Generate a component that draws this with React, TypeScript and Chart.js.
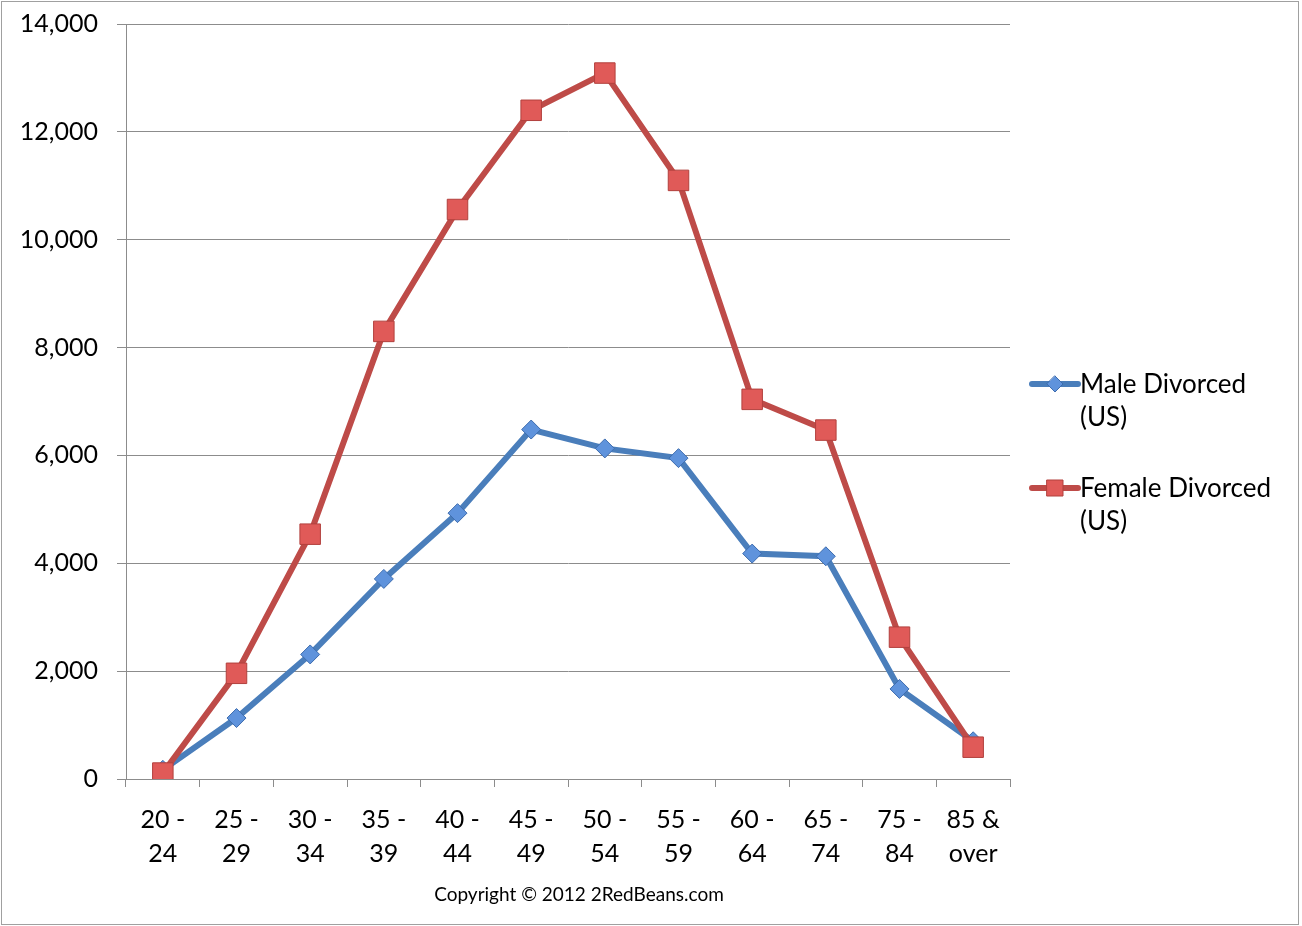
import { useEffect, useRef } from 'react'
import { Chart, registerables } from 'chart.js'
import type { Plugin } from 'chart.js'

Chart.register(...registerables)

const ageGroups: string[][] = [
  ['20 -', '24'],
  ['25 -', '29'],
  ['30 -', '34'],
  ['35 -', '39'],
  ['40 -', '44'],
  ['45 -', '49'],
  ['50 -', '54'],
  ['55 -', '59'],
  ['60 -', '64'],
  ['65 -', '74'],
  ['75 -', '84'],
  ['85 &', 'over'],
]

const maleDivorced = [170, 1130, 2310, 3710, 4930, 6480, 6130, 5950, 4180, 4130, 1670, 700]
const femaleDivorced = [110, 1960, 4540, 8300, 10560, 12400, 13090, 11100, 7040, 6470, 2630, 590]

const yMax = 14000
const yStep = 2000

const legendItems = [
  { label: ['Male Divorced', '(US)'], line: '#4a7ebb', fill: '#5f93dc', border: '#3d6cae', style: 'diamond' },
  { label: ['Female Divorced', '(US)'], line: '#be4b48', fill: '#e05a58', border: '#b2403d', style: 'square' },
]

const copyright = 'Copyright © 2012 2RedBeans.com'

const FONT = 'Lato, "Open Sans", sans-serif'
const GRID = '#8c8c8c'

const sidePlugin: Plugin<'line'> = {
  id: 'sideLegend',
  afterDraw(chart) {
    const { ctx, chartArea } = chart
    ctx.save()

    // legend with wrapped labels
    legendItems.forEach((item, i) => {
      const y = chartArea.top + 360 + i * 104
      const x0 = chartArea.right + 22
      ctx.strokeStyle = item.line
      ctx.lineWidth = 6
      ctx.lineCap = 'round'
      ctx.beginPath()
      ctx.moveTo(x0, y)
      ctx.lineTo(x0 + 46, y)
      ctx.stroke()

      const cx = x0 + 23
      ctx.fillStyle = item.fill
      ctx.strokeStyle = item.border
      ctx.lineWidth = 1
      ctx.beginPath()
      if (item.style === 'diamond') {
        ctx.moveTo(cx, y - 8)
        ctx.lineTo(cx + 8, y)
        ctx.lineTo(cx, y + 8)
        ctx.lineTo(cx - 8, y)
        ctx.closePath()
      } else {
        ctx.rect(cx - 8, y - 8, 16, 16)
      }
      ctx.fill()
      ctx.stroke()

      ctx.fillStyle = '#000'
      ctx.font = `26px ${FONT}`
      ctx.textAlign = 'left'
      ctx.textBaseline = 'middle'
      item.label.forEach((line, j) => {
        ctx.fillText(line, x0 + 48, y + 1 + j * 33)
      })
    })

    ctx.font = `19px ${FONT}`
    ctx.textAlign = 'center'
    ctx.textBaseline = 'middle'
    ctx.fillStyle = '#000'
    ctx.fillText(copyright, (chartArea.left + chartArea.right) / 2 + 11, chartArea.bottom + 116)

    ctx.restore()
  },
}

function DivorceChart() {
  const canvasRef = useRef<HTMLCanvasElement | null>(null)

  useEffect(() => {
    if (!canvasRef.current) {
      return undefined
    }

    const chart = new Chart(canvasRef.current, {
      type: 'line',
      data: {
        labels: ageGroups,
        datasets: [
          {
            label: 'Male Divorced (US)',
            data: maleDivorced,
            borderColor: legendItems[0].line,
            backgroundColor: legendItems[0].fill,
            pointBackgroundColor: legendItems[0].fill,
            pointBorderColor: legendItems[0].border,
            pointBorderWidth: 1,
            pointStyle: 'rectRot',
            pointRadius: 9.5,
            borderWidth: 6,
            tension: 0,
            fill: false,
            order: 1,
          },
          {
            label: 'Female Divorced (US)',
            data: femaleDivorced,
            borderColor: legendItems[1].line,
            backgroundColor: legendItems[1].fill,
            pointBackgroundColor: legendItems[1].fill,
            pointBorderColor: legendItems[1].border,
            pointBorderWidth: 1,
            pointStyle: 'rect',
            pointRadius: 14.5,
            borderWidth: 6,
            tension: 0,
            fill: false,
            order: 0,
          },
        ],
      },
      options: {
        responsive: true,
        maintainAspectRatio: false,
        animation: false,
        layout: {
          padding: { top: 10, right: 288, bottom: 0, left: 0 },
        },
        plugins: {
          legend: { display: false },
          tooltip: { enabled: false },
        },
        scales: {
          x: {
            offset: true,
            afterFit: (scale) => {
              scale.height = 145
            },
            grid: {
              offset: true,
              drawOnChartArea: false,
              drawTicks: true,
              tickLength: 8,
              color: GRID,
            },
            border: { display: true, color: GRID },
            ticks: {
              color: '#000',
              padding: 16,
              maxRotation: 0,
              autoSkip: false,
              font: { family: FONT, size: 25, lineHeight: 1.36 },
            },
          },
          y: {
            min: 0,
            max: yMax,
            afterFit: (scale) => {
              scale.width = 124
            },
            grid: {
              color: GRID,
              drawTicks: true,
              tickLength: 9,
            },
            border: { display: true, color: GRID },
            ticks: {
              stepSize: yStep,
              color: '#000',
              padding: 19,
              font: { family: FONT, size: 25 },
              callback: (value) => Number(value).toLocaleString('en-US'),
            },
          },
        },
      },
      plugins: [sidePlugin],
    })

    return () => {
      chart.destroy()
    }
  }, [])

  return (
    <div
      style={{
        position: 'absolute',
        left: 1,
        top: 1,
        width: 1296,
        height: 922,
        border: '1px solid #a0a0a0',
        background: '#fff',
        overflow: 'hidden',
      }}
    >
      {/* canvas shifted up to absorb Chart.js' minimum top padding */}
      <div style={{ position: 'absolute', left: 0, top: -12, width: 1296, height: 934 }}>
        <canvas ref={canvasRef} />
      </div>
    </div>
  )
}

export default function App() {
  useEffect(() => {
    document.body.style.margin = '0'
  }, [])

  return <DivorceChart />
}
